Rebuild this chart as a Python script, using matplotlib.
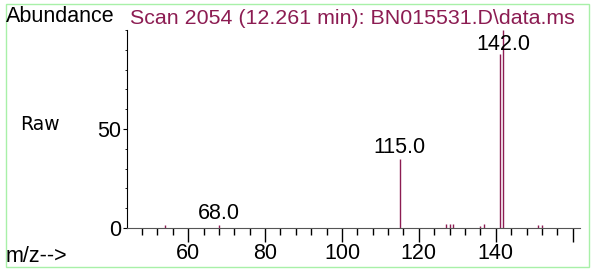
import matplotlib.pyplot as plt
from matplotlib.patches import Rectangle
from matplotlib.ticker import MultipleLocator

plt.rcParams['font.family'] = ['Liberation Sans', 'DejaVu Sans']

# mass spectrum peaks (m/z, abundance)
mz = [54, 68, 115, 127, 128, 129, 136, 137, 141, 142, 151, 152]
abund = [1.5, 1.5, 35, 2, 2, 2, 1, 2, 88, 100, 1.5, 1.5]
labelled = [68, 115, 142]

title = "Scan 2054 (12.261 min): BN015531.D\\data.ms"
peak_col = '#8c1c52'
fs = 15.5

fig = plt.figure(figsize=(5.91, 2.69), dpi=100)
ax = fig.add_axes([127/591, 41/269, 453/591, 198/269])

ax.vlines(mz, 0, abund, color=peak_col, lw=1)

for m in labelled:
    a = abund[mz.index(m)]
    ax.text(m, min(a + 3, 90), f"{m:.1f}", ha='center', va='baseline', fontsize=fs)

ax.set_xlim(44.1, 161.9)
ax.set_ylim(0, 100)
ax.xaxis.set_minor_locator(MultipleLocator(4))
ax.yaxis.set_minor_locator(MultipleLocator(10))
ax.set_xticks([60, 80, 100, 120, 140, 160])
ax.set_xticklabels(['60', '80', '100', '120', '140', ''])
ax.set_yticks([0, 50])

for s in ['top', 'right']:
    ax.spines[s].set_visible(False)
ax.spines['left'].set_color('black')
ax.spines['bottom'].set_color('#555555')
ax.tick_params(axis='x', which='major', length=10, width=1, labelsize=fs, pad=1)
ax.tick_params(axis='x', which='minor', length=5, width=1)
ax.tick_params(axis='y', which='major', length=3, labelsize=fs, pad=1)
ax.tick_params(axis='y', which='minor', length=1.5)

fig.text(6/591, 1 - 17/269, "Abundance", fontsize=fs, va='center', ha='left')
fig.text(130/591, 1 - 18/269, title, fontsize=15.4, va='center', ha='left', color=peak_col)
fig.text(20/591, 1 - 125/269, "Raw", fontsize=13.5, va='center', ha='left', family='DejaVu Sans')
fig.text(6/591, 1 - 257/269, "m/z-->", fontsize=fs, va='center', ha='left')

fig.patches.append(Rectangle((6/591, 2/269), 583/591, 263/269, transform=fig.transFigure,
                             fill=False, edgecolor='#a8f0a8', lw=1))

fig.savefig('out.png', dpi=100)
